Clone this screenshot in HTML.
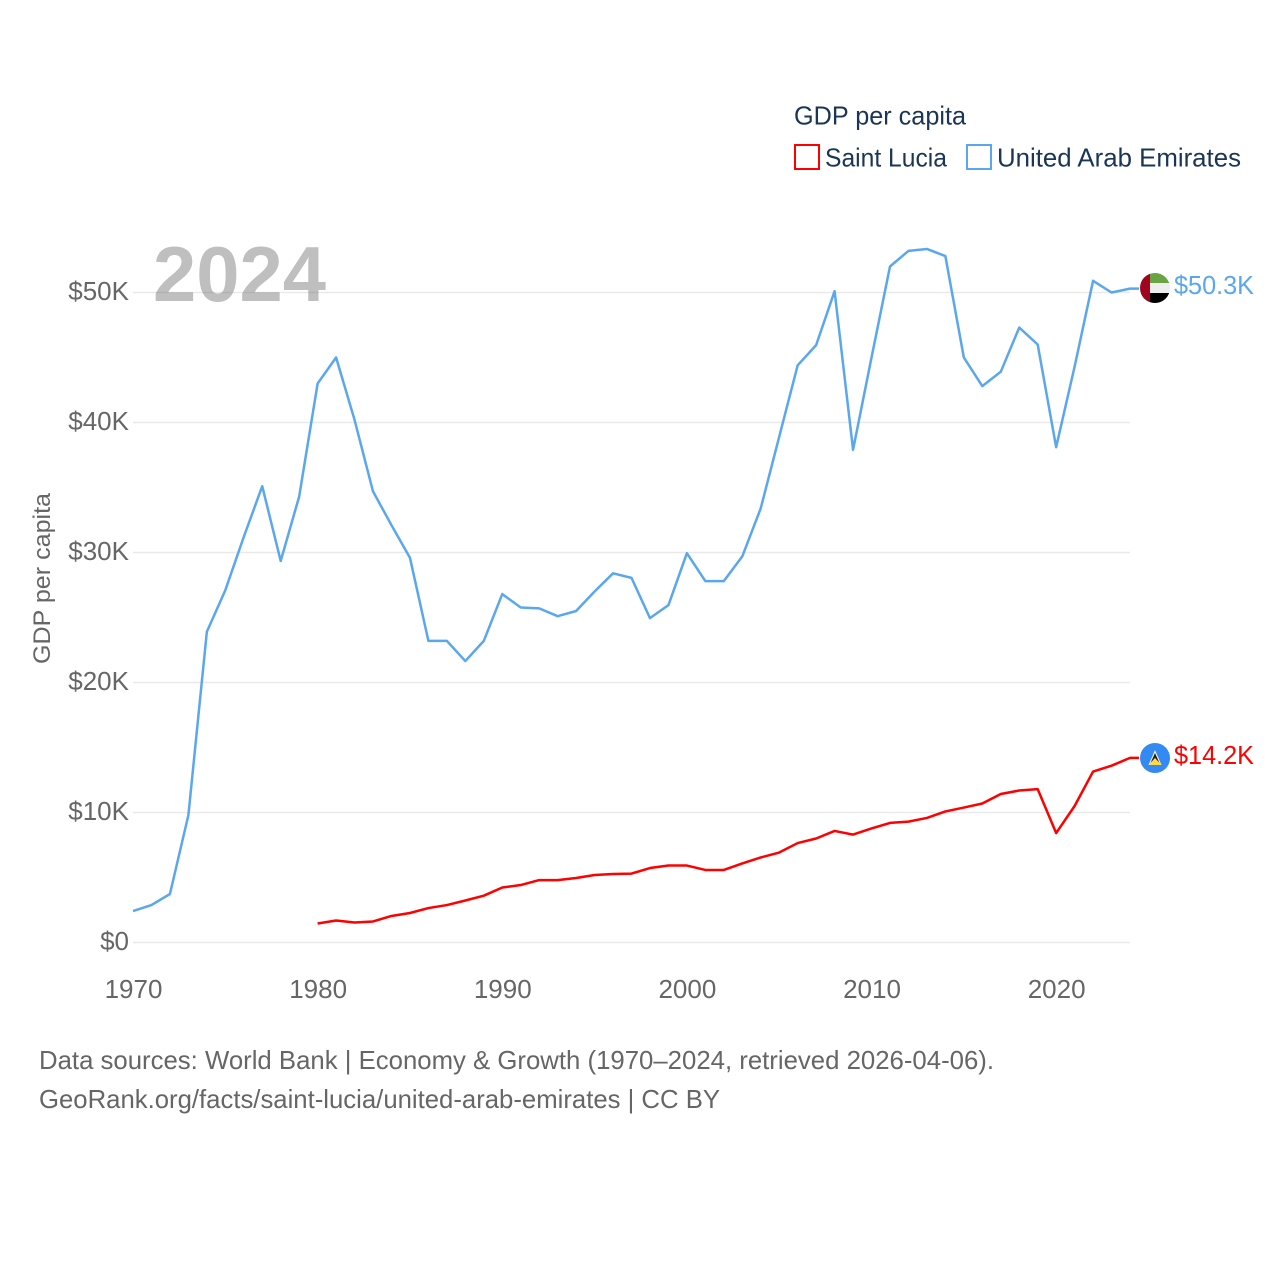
<!DOCTYPE html>
<html>
<head>
<meta charset="utf-8">
<style>
html,body{margin:0;padding:0;background:#fff}
svg{display:block}
text{font-family:"Liberation Sans",sans-serif}
</style>
</head>
<body>
<svg id="chart" width="1280" height="1280" viewBox="0 0 1280 1280" xmlns="http://www.w3.org/2000/svg">
  <rect width="1280" height="1280" fill="#fff"/>
  <g id="grid"></g>
  <g id="yticks"></g>
  <g id="xticks"></g>
  <text x="153" y="301" font-size="78" font-weight="700" fill="#666" fill-opacity="0.42" textLength="173" lengthAdjust="spacingAndGlyphs">2024</text>
  <g id="series"></g>
  <text transform="translate(50,664) rotate(-90)" font-size="24" fill="#666" textLength="171" lengthAdjust="spacingAndGlyphs">GDP per capita</text>

  <text x="794" y="124.5" font-size="26" fill="#1a3556" textLength="172" lengthAdjust="spacingAndGlyphs">GDP per capita</text>
  <rect x="795" y="145" width="24" height="24" fill="none" stroke="#ff0000" stroke-width="2"/>
  <text x="825" y="166.5" font-size="26" fill="#1a3556" textLength="122" lengthAdjust="spacingAndGlyphs">Saint Lucia</text>
  <rect x="967" y="145" width="24" height="24" fill="none" stroke="#5ba7ee" stroke-width="2"/>
  <text x="997" y="166.5" font-size="26" fill="#1a3556" textLength="244" lengthAdjust="spacingAndGlyphs">United Arab Emirates</text>

  <defs>
    <clipPath id="flag-clip-uae"><circle cx="1155" cy="288" r="15"/></clipPath>
  </defs>
  <g clip-path="url(#flag-clip-uae)">
    <rect x="1140" y="273" width="30" height="10" fill="#6aa344"/>
    <rect x="1140" y="283" width="30" height="10" fill="#eeeeee"/>
    <rect x="1140" y="293" width="30" height="10" fill="#000"/>
    <rect x="1140" y="273" width="10" height="30" fill="#a0041e"/>
  </g>
  <text x="1174" y="294" font-size="26" fill="#5ba7ee" textLength="80" lengthAdjust="spacingAndGlyphs">$50.3K</text>

  <g>
    <circle cx="1155" cy="758" r="15" fill="#338af3"/>
    <polygon points="1155,750 1161.5,765 1148.5,765" fill="#f0f0f0"/>
    <polygon points="1155,753 1159.5,763 1150.5,763" fill="#222"/>
    <polygon points="1155,758 1161.5,765 1148.5,765" fill="#ffda44"/>
  </g>
  <text x="1174" y="764" font-size="26" fill="#ff0000" textLength="80" lengthAdjust="spacingAndGlyphs">$14.2K</text>

  <text x="39" y="1069" font-size="26" fill="#666" textLength="955" lengthAdjust="spacingAndGlyphs">Data sources: World Bank | Economy &amp; Growth (1970–2024, retrieved 2026-04-06).</text>
  <text x="39" y="1108" font-size="26" fill="#666" textLength="681" lengthAdjust="spacingAndGlyphs">GeoRank.org/facts/saint-lucia/united-arab-emirates | CC BY</text>
</svg>
<script>
const startYear = 1970;
const endYear = 2024;
const yTicks = [0, 10, 20, 30, 40, 50];
const yTickLabels = ["$0", "$10K", "$20K", "$30K", "$40K", "$50K"];
const xTicks = [1970, 1980, 1990, 2000, 2010, 2020];
const xTickLabels = ["1970", "1980", "1990", "2000", "2010", "2020"];

const uaeStartYear = 1970;
const uaeValues = [2.42, 2.88, 3.73, 9.8, 23.9, 27.1, 31.2, 35.1, 29.35, 34.3,
  43.0, 45.0, 40.2, 34.7, 32.1, 29.6, 23.2, 23.2, 21.65, 23.2,
  26.8, 25.77, 25.7, 25.1, 25.5, 27.0, 28.4, 28.05, 24.95, 25.95,
  29.95, 27.8, 27.8, 29.7, 33.4, 38.9, 44.4, 45.95, 50.1, 37.9,
  45.0, 52.0, 53.2, 53.35, 52.8, 45.0, 42.8, 43.9, 47.3, 46.0,
  38.1, 44.3, 50.9, 50.0, 50.3];

const stLuciaStartYear = 1980;
const stLuciaValues = [1.46, 1.69, 1.54, 1.62, 2.04, 2.27, 2.65, 2.88, 3.23, 3.6,
  4.23, 4.42, 4.8, 4.8, 4.96, 5.19, 5.27, 5.3, 5.73, 5.92,
  5.92, 5.58, 5.58, 6.08, 6.54, 6.92, 7.65, 8.0, 8.58, 8.3,
  8.77, 9.2, 9.3, 9.58, 10.08, 10.38, 10.69, 11.42, 11.69, 11.8,
  8.42, 10.5, 13.15, 13.6, 14.2];

const NS = "http://www.w3.org/2000/svg";
const plotLeft = 133, plotRight = 1130, plotZero = 942.5, pxPerUnit = 13;
function xScale(year) {
  return plotLeft + (year - startYear) * (plotRight - plotLeft) / (endYear - startYear);
}
function yScale(value) {
  return plotZero - value * pxPerUnit;
}
const gridGroup = document.getElementById("grid");
const yGroup = document.getElementById("yticks");
const xGroup = document.getElementById("xticks");
const seriesGroup = document.getElementById("series");

yTicks.forEach(function (tick, i) {
  const line = document.createElementNS(NS, "line");
  
  
  line.setAttribute("x1", plotLeft);
  line.setAttribute("x2", plotRight);
  line.setAttribute("y1", yScale(tick));
  line.setAttribute("y2", yScale(tick));
  line.setAttribute("stroke", "#e9e9e9");
  line.setAttribute("stroke-width", "1.5");
  gridGroup.appendChild(line);

  const label = document.createElementNS(NS, "text");
  
  
  label.setAttribute("x", 129);
  label.setAttribute("y", yScale(tick) + 7.5);
  label.setAttribute("text-anchor", "end");
  label.setAttribute("font-size", "26");
  label.setAttribute("fill", "#666");
  label.textContent = yTickLabels[i];
  yGroup.appendChild(label);
});

xTicks.forEach(function (tick, i) {
  const label = document.createElementNS(NS, "text");
  
  
  label.setAttribute("x", xScale(tick) + 0.5);
  label.setAttribute("y", 998);
  label.setAttribute("text-anchor", "middle");
  label.setAttribute("font-size", "26");
  label.setAttribute("fill", "#666");
  label.textContent = xTickLabels[i];
  xGroup.appendChild(label);
});

function drawSeries(values, firstYear, color, name) {
  const pts = values.map(function (v, i) {
    return xScale(firstYear + i).toFixed(2) + "," + yScale(v).toFixed(2);
  });
  const lastY = yScale(values[values.length - 1]).toFixed(2);
  pts.push("1139," + lastY);
  const line = document.createElementNS(NS, "polyline");
  
  
  line.setAttribute("points", pts.join(" "));
  line.setAttribute("fill", "none");
  line.setAttribute("stroke", color);
  line.setAttribute("stroke-width", "2.5");
  line.setAttribute("stroke-linejoin", "round");
  seriesGroup.appendChild(line);
}
drawSeries(stLuciaValues, stLuciaStartYear, "#ff0000", "saint-lucia-line");
drawSeries(uaeValues, uaeStartYear, "#5ba7ee", "uae-line");
</script>
</body>
</html>
